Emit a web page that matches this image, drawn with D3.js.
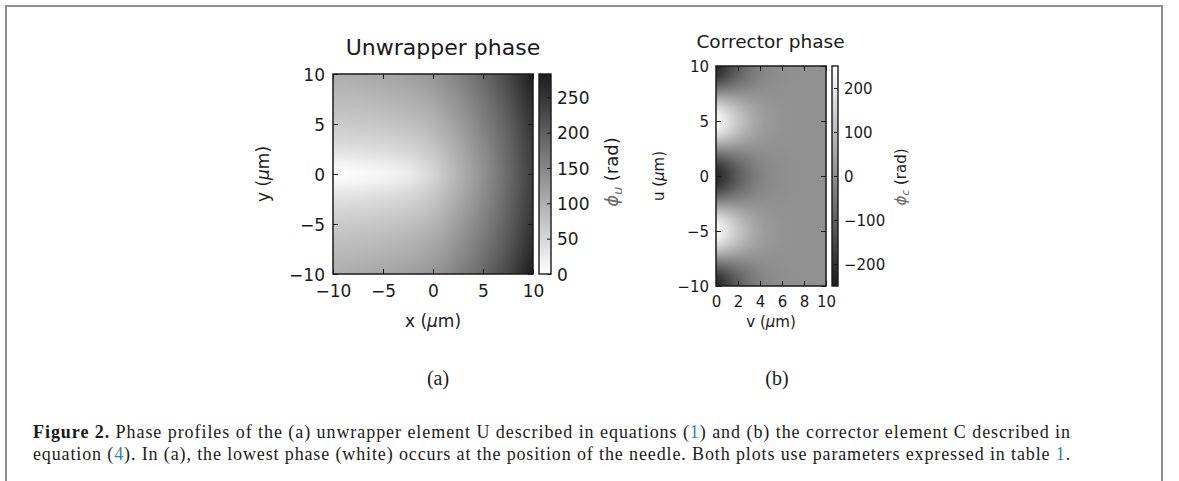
<!DOCTYPE html>
<html><head><meta charset="utf-8">
<script src="https://cdn.jsdelivr.net/npm/d3@7"></script>
<style>
html,body{margin:0;padding:0;background:#fff;}
svg{display:block;}
text{font-family:"DejaVu Sans",sans-serif;fill:#1a1a1a;}
.serif{font-family:"Liberation Serif","Times New Roman",serif;}
</style></head><body>
<svg id="fig" width="1179" height="481"></svg>
<script>
// Unwrapper phase phi_u (rad): rows y = 10 ... -10, columns x = -10 ... 10 (2 um step)
const unwrapX = [-10, -8, -6, -4, -2, 0, 2, 4, 6, 8, 10];
const unwrapY = [10, 8, 6, 4, 2, 0, -2, -4, -6, -8, -10];
const unwrapPhase = [
  [100, 103, 108, 113, 120, 132, 150, 174, 203, 241, 283],
  [ 88,  90,  94,  98, 105, 116, 136, 161, 190, 226, 268],
  [ 74,  76,  79,  83,  90, 101, 122, 148, 178, 214, 257],
  [ 56,  58,  61,  65,  72,  85, 108, 136, 168, 205, 249],
  [ 32,  34,  37,  42,  51,  67,  95, 126, 160, 199, 243],
  [  0,   3,   7,  14,  27,  52,  86, 120, 156, 196, 240],
  [ 32,  34,  37,  42,  51,  67,  95, 126, 160, 199, 243],
  [ 56,  58,  61,  65,  72,  85, 108, 136, 168, 205, 249],
  [ 74,  76,  79,  83,  90, 101, 122, 148, 178, 214, 257],
  [ 88,  90,  94,  98, 105, 116, 136, 161, 190, 226, 268],
  [100, 103, 108, 113, 120, 132, 150, 174, 203, 241, 283]
];
const unwrapRange = [0, 283];
const unwrapTicks = [-10, -5, 0, 5, 10];
const unwrapBarTicks = [0, 50, 100, 150, 200, 250];

// Corrector phase phi_c (rad): rows u = 10 ... -10, columns v = 0 ... 10 (1 um step)
const corrV = [0, 1, 2, 3, 4, 5, 6, 7, 8, 9, 10];
const corrU = [10, 9, 8, 7, 6, 5, 4, 3, 2, 1, 0, -1, -2, -3, -4, -5, -6, -7, -8, -9, -10];
const corrPhase = [
  [-232, -172, -110, -62, -28, -8,  1,  5, 7, 8, 8],
  [-186, -138,  -88, -49, -21, -5,  2,  6, 7, 8, 8],
  [ -66,  -48,  -29, -14,  -3,  3,  6,  7, 8, 8, 8],
  [  82,   64,   45,  30,  19, 13, 10,  9, 8, 8, 8],
  [ 202,  154,  104,  65,  37, 21, 14, 10, 9, 8, 8],
  [ 248,  188,  126,  78,  44, 24, 15, 11, 9, 8, 8],
  [ 202,  154,  104,  65,  37, 21, 14, 10, 9, 8, 8],
  [  82,   64,   45,  30,  19, 13, 10,  9, 8, 8, 8],
  [ -66,  -48,  -29, -14,  -3,  3,  6,  7, 8, 8, 8],
  [-186, -138,  -88, -49, -21, -5,  2,  6, 7, 8, 8],
  [-232, -172, -110, -62, -28, -8,  1,  5, 7, 8, 8],
  [-186, -138,  -88, -49, -21, -5,  2,  6, 7, 8, 8],
  [ -66,  -48,  -29, -14,  -3,  3,  6,  7, 8, 8, 8],
  [  82,   64,   45,  30,  19, 13, 10,  9, 8, 8, 8],
  [ 202,  154,  104,  65,  37, 21, 14, 10, 9, 8, 8],
  [ 248,  188,  126,  78,  44, 24, 15, 11, 9, 8, 8],
  [ 202,  154,  104,  65,  37, 21, 14, 10, 9, 8, 8],
  [  82,   64,   45,  30,  19, 13, 10,  9, 8, 8, 8],
  [ -66,  -48,  -29, -14,  -3,  3,  6,  7, 8, 8, 8],
  [-186, -138,  -88, -49, -21, -5,  2,  6, 7, 8, 8],
  [-232, -172, -110, -62, -28, -8,  1,  5, 7, 8, 8]
];
const corrRange = [-250, 250];
const corrXTicks = [0, 2, 4, 6, 8, 10];
const corrYTicks = [-10, -5, 0, 5, 10];
const corrBarTicks = [-200, -100, 0, 100, 200];

const captionLines = [
  [{t: "Figure 2.", b: true}, {t: " Phase profiles of the (a) unwrapper element U described in equations ("}, {t: "1", c: true},
   {t: ") and (b) the corrector element C described in"}],
  [{t: "equation ("}, {t: "4", c: true}, {t: "). In (a), the lowest phase (white) occurs at the position of the needle. Both plots use parameters expressed in table "},
   {t: "1", c: true}, {t: "."}]
];

const svg = d3.select("#fig");
const defs = svg.append("defs");
const INK = "#1a1a1a";

// outer figure box
svg.append("path").attr("d", "M6,481V6H1162V481").attr("fill", "none")
  .attr("stroke", "#8f8f8f").attr("stroke-width", 2);

function heatImage(g, grid, xs, ys, xScale, yScale, color, clipId) {
  const nx = xs.length, ny = ys.length;
  const src = document.createElement("canvas");
  src.width = nx; src.height = ny;
  const sctx = src.getContext("2d");
  const img = sctx.createImageData(nx, ny);
  grid.forEach((row, j) => row.forEach((v, i) => {
    const c = d3.rgb(color(v)), k = 4 * (j * nx + i);
    img.data[k] = c.r; img.data[k + 1] = c.g; img.data[k + 2] = c.b; img.data[k + 3] = 255;
  }));
  sctx.putImageData(img, 0, 0);
  const hx = Math.abs(xs[1] - xs[0]) / 2, hy = Math.abs(ys[0] - ys[1]) / 2;
  const x0 = xScale(xs[0] - hx), x1 = xScale(xs[nx - 1] + hx);
  const y0 = yScale(ys[0] + hy), y1 = yScale(ys[ny - 1] - hy);
  const W = Math.round(x1 - x0), H = Math.round(y1 - y0);
  const out = document.createElement("canvas");
  out.width = W; out.height = H;
  const octx = out.getContext("2d");
  octx.imageSmoothingEnabled = true;
  octx.imageSmoothingQuality = "high";
  octx.drawImage(src, 0, 0, W, H);
  g.append("image").attr("href", out.toDataURL())
    .attr("x", x0).attr("y", y0).attr("width", W).attr("height", H)
    .attr("preserveAspectRatio", "none").attr("clip-path", `url(#${clipId})`);
}

function styleAxis(ax, fs) {
  ax.select(".domain").remove();
  ax.attr("font-family", null).attr("font-size", null);
  ax.selectAll("line").attr("stroke", INK).attr("stroke-width", 1);
  ax.selectAll("text").attr("fill", INK).style("font-size", fs + "px");
}

function colorbar(g, id, scale, color, x0, w, ticks, fs) {
  const [lo, hi] = scale.domain();
  const grad = defs.append("linearGradient").attr("id", id)
    .attr("x1", 0).attr("y1", 1).attr("x2", 0).attr("y2", 0);
  d3.range(0, 1.0001, 0.05).forEach(t => {
    grad.append("stop").attr("offset", t).attr("stop-color", color(lo + t * (hi - lo)));
  });
  const [yb, yt] = scale.range();
  g.append("rect").attr("x", x0).attr("y", yt).attr("width", w).attr("height", yb - yt)
    .attr("fill", `url(#${id})`).attr("stroke", INK).attr("stroke-width", 1.4);
  const ax = g.append("g").attr("transform", `translate(${x0 + w},0)`)
    .call(d3.axisRight(scale).tickValues(ticks).tickSize(-4).tickPadding(6));
  styleAxis(ax, fs);
  ax.selectAll("text").attr("dy", "0.36em");
}

function panel(o) {
  const g = svg.append("g");
  const x = d3.scaleLinear().domain(o.xDomain).range([o.left, o.right]);
  const y = d3.scaleLinear().domain(o.yDomain).range([o.bottom, o.top]);
  defs.append("clipPath").attr("id", o.id + "clip").append("rect")
    .attr("x", o.left).attr("y", o.top).attr("width", o.right - o.left).attr("height", o.bottom - o.top);
  heatImage(g, o.grid, o.xs, o.ys, x, y, o.color, o.id + "clip");

  const fs = o.fs;
  const axL = g.append("g").attr("transform", `translate(${o.left},0)`)
    .call(d3.axisLeft(y).tickValues(o.yTicks).tickSize(-5).tickPadding(o.padL));
  styleAxis(axL, fs);
  axL.selectAll("text").attr("dy", "0.36em");
  const axR = g.append("g").attr("transform", `translate(${o.right},0)`)
    .call(d3.axisRight(y).tickValues(o.yTicks).tickSize(-5).tickFormat(""));
  styleAxis(axR, fs);
  const axB = g.append("g").attr("transform", `translate(0,${o.bottom})`)
    .call(d3.axisBottom(x).tickValues(o.xTicks).tickSize(-5).tickPadding(o.padB));
  styleAxis(axB, fs);
  const axT = g.append("g").attr("transform", `translate(0,${o.top})`)
    .call(d3.axisTop(x).tickValues(o.xTicks).tickSize(-5).tickFormat(""));
  styleAxis(axT, fs);

  g.append("rect").attr("x", o.left).attr("y", o.top)
    .attr("width", o.right - o.left).attr("height", o.bottom - o.top)
    .attr("fill", "none").attr("stroke", INK).attr("stroke-width", 1.5);

  // colorbar
  const cb = d3.scaleLinear().domain(o.range).range([o.bottom, o.top]);
  colorbar(g, o.id + "grad", cb, o.color, o.cbX, o.cbW, o.cbTicks, fs);

  // titles and axis labels
  g.append("text").attr("x", o.titleX).attr("y", o.titleY).attr("text-anchor", "middle")
    .style("font-size", o.titleFs + "px").text(o.title);
  const xl = g.append("text").attr("x", (o.left + o.right) / 2).attr("y", o.xLabelY)
    .attr("text-anchor", "middle").style("font-size", fs + "px");
  xl.append("tspan").text(o.xName + " (");
  xl.append("tspan").style("font-style", "italic").text("μ");
  xl.append("tspan").text("m)");
  const yl = g.append("text").attr("transform", `translate(${o.yLabelX},${(o.top + o.bottom) / 2}) rotate(-90)`)
    .attr("text-anchor", "middle").style("font-size", fs + "px");
  yl.append("tspan").text(o.yName + " (");
  yl.append("tspan").style("font-style", "italic").text("μ");
  yl.append("tspan").text("m)");
  const cl = g.append("text").attr("transform", `translate(${o.cLabelX},${o.cLabelY}) rotate(-90)`)
    .attr("text-anchor", "middle").style("font-size", o.cLabelFs + "px");
  cl.append("tspan").style("font-style", "italic").attr("fill", "#6a6a6a").text("ϕ");
  cl.append("tspan").style("font-style", "italic").attr("fill", "#6a6a6a")
    .style("font-size", (o.cLabelFs * 0.7) + "px").attr("dy", "0.3em").text(o.cSub);
  cl.append("tspan").attr("dy", "-0.21em").text(" (rad)");

  svg.append("text").attr("class", "serif").attr("x", o.subX).attr("y", 385)
    .attr("text-anchor", "middle").style("font-size", "20px").text(o.sub);
}

const greyUp = d3.scaleLinear().domain(unwrapRange).range(["#ffffff", "#1c1c1c"]).interpolate(d3.interpolateRgb);
const greyDown = d3.scaleLinear().domain(corrRange).range(["#1c1c1c", "#ffffff"]).interpolate(d3.interpolateRgb);

panel({
  id: "a", left: 333, right: 533, top: 74, bottom: 274,
  xDomain: [-10, 10], yDomain: [-10, 10], grid: unwrapPhase, xs: unwrapX, ys: unwrapY,
  color: greyUp, range: unwrapRange, xTicks: unwrapTicks, yTicks: unwrapTicks, cbTicks: unwrapBarTicks,
  fs: 17, padL: 8, padB: 11, cbX: 539, cbW: 12,
  title: "Unwrapper phase", titleX: 443, titleY: 55, titleFs: 22,
  xName: "x", yName: "y", xLabelY: 327, yLabelX: 269,
  cLabelX: 618, cLabelY: 172, cLabelFs: 18, cSub: "u",
  subX: 438, sub: "(a)"
});

panel({
  id: "b", left: 716, right: 826, top: 66, bottom: 286,
  xDomain: [0, 10], yDomain: [-10, 10], grid: corrPhase, xs: corrV, ys: corrU,
  color: greyDown, range: corrRange, xTicks: corrXTicks, yTicks: corrYTicks, cbTicks: corrBarTicks,
  fs: 15, padL: 7, padB: 10, cbX: 832, cbW: 6,
  title: "Corrector phase", titleX: 770.5, titleY: 48, titleFs: 18.5,
  xName: "v", yName: "u", xLabelY: 327, yLabelX: 664,
  cLabelX: 906, cLabelY: 177, cLabelFs: 15, cSub: "c",
  subX: 777, sub: "(b)"
});

// caption, both lines set to the same measure by spreading the letters
const capLeft = 33, capRight = 1071, capBase = [438, 460];
captionLines.forEach((parts, i) => {
  const t = svg.append("text").attr("class", "serif").attr("x", capLeft).attr("y", capBase[i])
    .style("font-size", "18px").attr("xml:space", "preserve");
  parts.forEach(p => {
    const s = t.append("tspan").text(p.t);
    if (p.b) s.style("font-weight", "bold");
    if (p.c) s.attr("fill", "#2d80bd");
  });
  const natural = t.node().getComputedTextLength();
  const chars = parts.map(p => p.t).join("").length;
  t.style("letter-spacing", ((capRight - capLeft - natural) / chars) + "px");
});
</script>
</body></html>
